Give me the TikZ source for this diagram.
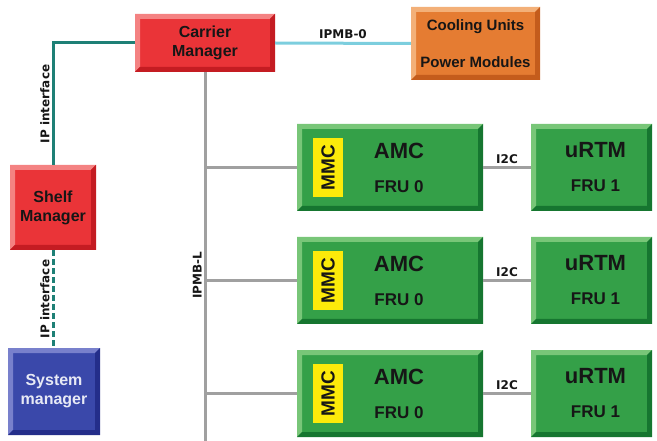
\documentclass[tikz,border=0pt]{standalone}
\usepackage{fontspec}
\setmainfont{Liberation Sans}
\newfontfamily\tagfont{DejaVu Sans}
\usepackage{tikz}
\usetikzlibrary{positioning,calc}
\definecolor{mgrred}{RGB}{234,52,56}
\definecolor{mgrredlt}{RGB}{244,130,130}
\definecolor{mgrreddk}{RGB}{196,28,34}
\definecolor{unitorange}{RGB}{229,124,50}
\definecolor{unitorangelt}{RGB}{243,176,120}
\definecolor{unitorangedk}{RGB}{196,92,28}
\definecolor{amcgreen}{RGB}{52,160,72}
\definecolor{amcgreenlt}{RGB}{120,198,120}
\definecolor{amcgreendk}{RGB}{22,118,48}
\definecolor{sysblue}{RGB}{58,72,170}
\definecolor{sysbluelt}{RGB}{120,128,204}
\definecolor{sysbluedk}{RGB}{36,46,138}
\definecolor{mmcyellow}{RGB}{252,234,10}
\definecolor{ipteal}{RGB}{30,128,118}
\definecolor{ipmbcyan}{RGB}{124,206,222}
\definecolor{busgray}{RGB}{160,160,160}
\definecolor{inkgray}{RGB}{22,22,22}
\def\bev{5pt}

\begin{document}
\begin{tikzpicture}[
    x=1pt, y=-1pt,
    bevel/.style n args={3}{
        rectangle,
        fill=#1,
        inner sep=0pt,
        align=center,
        path picture={
            \fill[#2] (path picture bounding box.south west)
                -- (path picture bounding box.north west)
                -- (path picture bounding box.north east)
                -- ([shift={(-\bev,-\bev)}]path picture bounding box.north east)
                -- ([shift={(\bev,-\bev)}]path picture bounding box.north west)
                -- ([shift={(\bev,\bev)}]path picture bounding box.south west) -- cycle;
            \fill[#3] (path picture bounding box.south west)
                -- (path picture bounding box.south east)
                -- (path picture bounding box.north east)
                -- ([shift={(-\bev,-\bev)}]path picture bounding box.north east)
                -- ([shift={(-\bev,\bev)}]path picture bounding box.south east)
                -- ([shift={(\bev,\bev)}]path picture bounding box.south west) -- cycle;
        }
    },
    mgrbox/.style={
        bevel={mgrred}{mgrredlt}{mgrreddk},
        text=inkgray,
        font=\bfseries\fontsize{16}{19}\selectfont
    },
    unitbox/.style={
        bevel={unitorange}{unitorangelt}{unitorangedk},
        text=inkgray,
        font=\bfseries\fontsize{15}{17}\selectfont
    },
    amcbox/.style={
        bevel={amcgreen}{amcgreenlt}{amcgreendk},
        minimum height=87pt
    },
    sysbox/.style={
        bevel={sysblue}{sysbluelt}{sysbluedk},
        text=white!88!sysblue,
        font=\bfseries\fontsize{16}{19}\selectfont
    },
    mmcbox/.style={
        rectangle,
        fill=mmcyellow,
        minimum width=30pt,
        minimum height=59pt,
        inner sep=0pt
    },
    frutext/.style={
        align=center,
        text=inkgray,
        inner sep=0pt,
        font=\bfseries\fontsize{17}{34}\selectfont
    },
    mmctext/.style={
        rotate=90,
        text=inkgray,
        inner sep=0pt,
        font=\bfseries\fontsize{19}{21}\selectfont
    },
    taglabel/.style={
        font=\tagfont\bfseries\fontsize{12}{14}\selectfont,
        text=inkgray,
        inner sep=2pt
    },
    ipline/.style={
        line width=3pt,
        draw=ipteal
    },
    ipmbline/.style={
        line width=3pt,
        draw=ipmbcyan
    },
    busline/.style={
        line width=3pt,
        draw=busgray
    }
]

\useasboundingbox (0,0) rectangle (657,441);

\node[mgrbox, minimum width=140pt, minimum height=58pt] (carrier) at (205,43) {Carrier\\Manager};
\node[unitbox, minimum width=129pt, minimum height=73pt] (cooling) at (475.5,43.5) {Cooling Units\\[20pt]Power Modules};

\node[mgrbox, minimum width=86pt, minimum height=85pt] (shelf) at (53,207.5) {Shelf\\Manager};
\node[sysbox, minimum width=92pt, minimum height=87pt] (sysmgr) at (54,391.5) {System\\manager};

\draw[ipline] (carrier.west) -| node[pos=0.75, taglabel, rotate=90, anchor=south] {IP interface} (shelf.north);
\draw[ipline, dash pattern=on 6pt off 3pt] (shelf.south) -- node[midway, taglabel, rotate=90, anchor=south] {IP interface} (shelf.south |- sysmgr.north);

\draw[ipmbline] (carrier.east) -- node[midway, above, taglabel, yshift=1pt] {IPMB-0} (cooling.west);

% AMC modules and their uRTM partners
\node[amcbox, minimum width=186pt] (amc1) at (390,167.5) {};
\node[amcbox, minimum width=186pt] (amc2) at (390,280.5) {};
\node[amcbox, minimum width=186pt] (amc3) at (390,393.5) {};

\node[mmcbox] (mmc1) at ([xshift=-62pt]amc1.center) {};
\node[mmcbox] (mmc2) at ([xshift=-62pt]amc2.center) {};
\node[mmcbox] (mmc3) at ([xshift=-62pt]amc3.center) {};
\node[mmctext] (mmctext1) at (mmc1.center) {MMC};
\node[mmctext] (mmctext2) at (mmc2.center) {MMC};
\node[mmctext] (mmctext3) at (mmc3.center) {MMC};

\node[frutext] (amctext1) at ([xshift=9pt]amc1.center) {{\fontsize{22}{34}\selectfont AMC}\\FRU 0};
\node[frutext] (amctext2) at ([xshift=9pt]amc2.center) {{\fontsize{22}{34}\selectfont AMC}\\FRU 0};
\node[frutext] (amctext3) at ([xshift=9pt]amc3.center) {{\fontsize{22}{34}\selectfont AMC}\\FRU 0};

\node[amcbox, minimum width=121pt] (urtm1) at (591.5,167.5) {};
\node[amcbox, minimum width=121pt] (urtm2) at (591.5,280.5) {};
\node[amcbox, minimum width=121pt] (urtm3) at (591.5,393.5) {};

\node[frutext] (urtmtext1) at ([xshift=4pt]urtm1.center) {{\fontsize{22}{34}\selectfont uRTM}\\FRU 1};
\node[frutext] (urtmtext2) at ([xshift=4pt]urtm2.center) {{\fontsize{22}{34}\selectfont uRTM}\\FRU 1};
\node[frutext] (urtmtext3) at ([xshift=4pt]urtm3.center) {{\fontsize{22}{34}\selectfont uRTM}\\FRU 1};

\coordinate (busend) at (carrier.south |- 0,441);
\draw[busline] (carrier.south) -- node[pos=0.55, taglabel, rotate=90, anchor=south] {IPMB-L} (busend);

\draw[busline] (carrier.south |- amc1.west) -- (amc1.west);
\draw[busline] (carrier.south |- amc2.west) -- (amc2.west);
\draw[busline] (carrier.south |- amc3.west) -- (amc3.west);

\draw[busline] (amc1.east) -- node[midway, above, taglabel] {I2C} (urtm1.west);
\draw[busline] (amc2.east) -- node[midway, above, taglabel] {I2C} (urtm2.west);
\draw[busline] (amc3.east) -- node[midway, above, taglabel] {I2C} (urtm3.west);

\end{tikzpicture}
\end{document}
